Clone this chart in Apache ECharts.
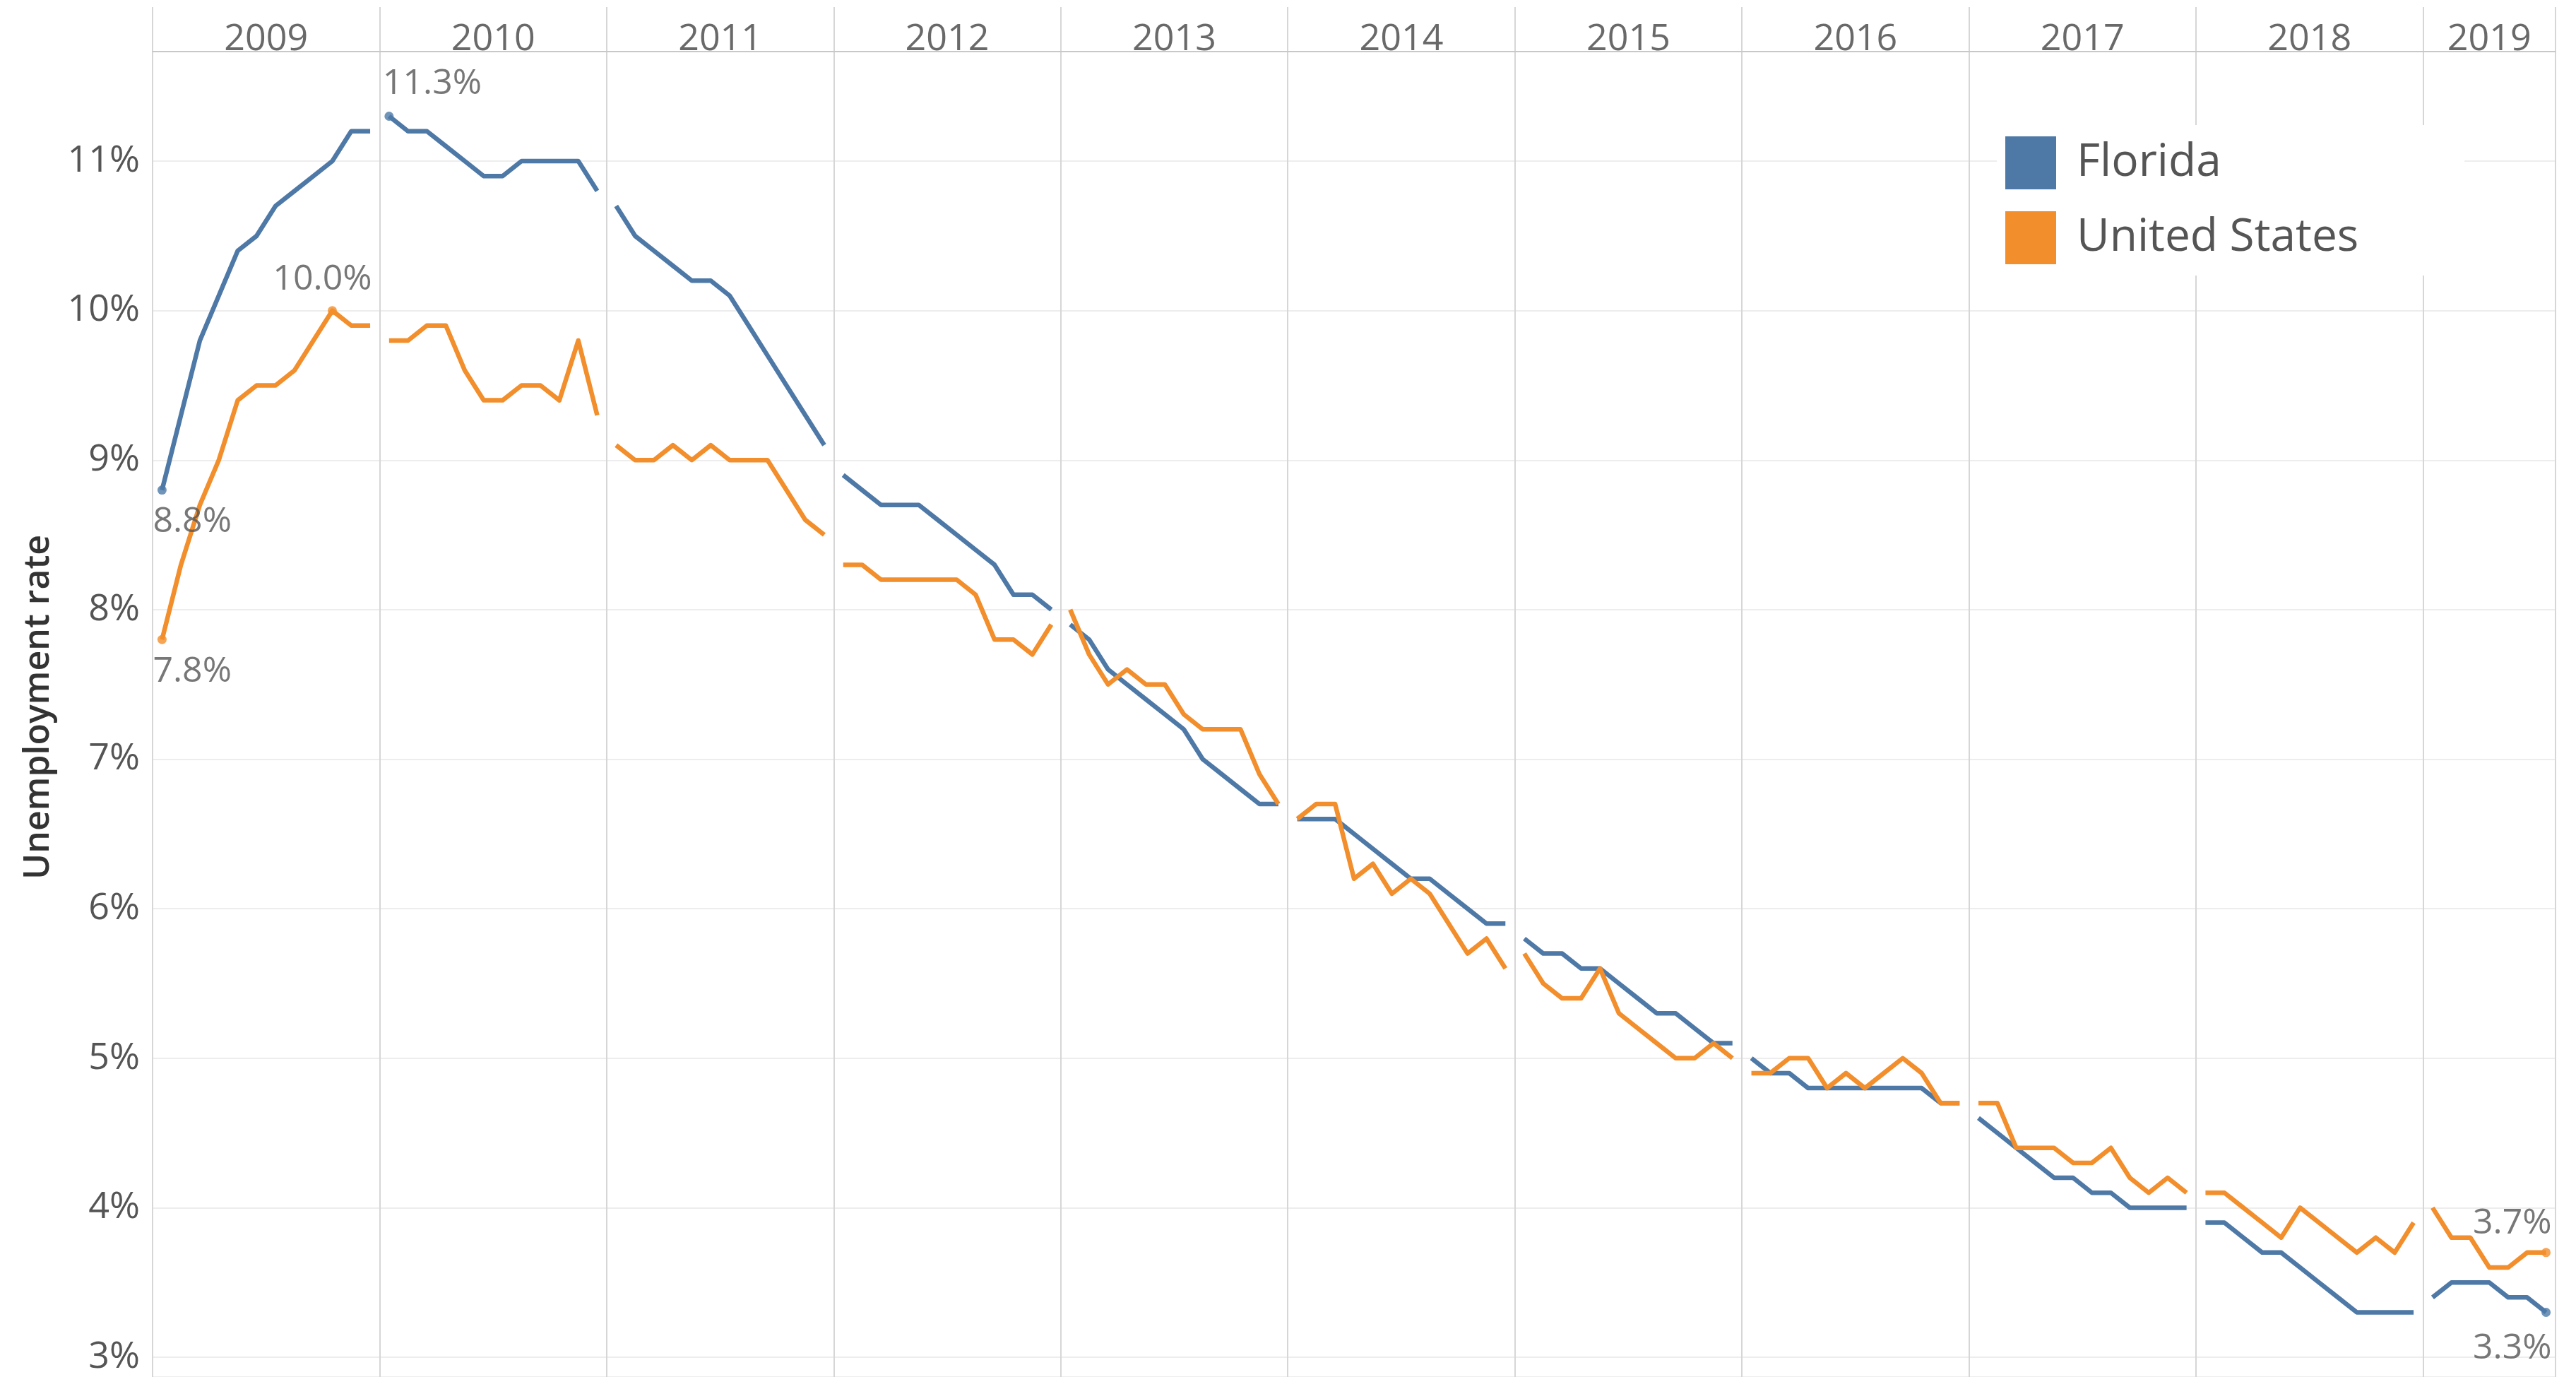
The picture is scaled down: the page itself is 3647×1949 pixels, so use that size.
<!DOCTYPE html>
<html>
<head>
<meta charset="utf-8">
<script src="https://cdn.jsdelivr.net/npm/echarts@6/dist/echarts.min.js"></script>
<style>
html,body{margin:0;padding:0;background:#fff;}
#chart{width:3647px;height:1949px;}
</style>
</head>
<body>
<div id="chart"></div>
<script>
// ---- Data (monthly unemployment rate, %) ----
const years = ['2009','2010','2011','2012','2013','2014','2015','2016','2017','2018','2019'];
const yTicks = [3,4,5,6,7,8,9,10,11];
const seriesNames = ['Florida','United States'];

const florida = [
  [8.8, 9.3, 9.8, 10.1, 10.4, 10.5, 10.7, 10.8, 10.9, 11.0, 11.2, 11.2],
  [11.3, 11.2, 11.2, 11.1, 11.0, 10.9, 10.9, 11.0, 11.0, 11.0, 11.0, 10.8],
  [10.7, 10.5, 10.4, 10.3, 10.2, 10.2, 10.1, 9.9, 9.7, 9.5, 9.3, 9.1],
  [8.9, 8.8, 8.7, 8.7, 8.7, 8.6, 8.5, 8.4, 8.3, 8.1, 8.1, 8.0],
  [7.9, 7.8, 7.6, 7.5, 7.4, 7.3, 7.2, 7.0, 6.9, 6.8, 6.7, 6.7],
  [6.6, 6.6, 6.6, 6.5, 6.4, 6.3, 6.2, 6.2, 6.1, 6.0, 5.9, 5.9],
  [5.8, 5.7, 5.7, 5.6, 5.6, 5.5, 5.4, 5.3, 5.3, 5.2, 5.1, 5.1],
  [5.0, 4.9, 4.9, 4.8, 4.8, 4.8, 4.8, 4.8, 4.8, 4.8, 4.7, 4.7],
  [4.6, 4.5, 4.4, 4.3, 4.2, 4.2, 4.1, 4.1, 4.0, 4.0, 4.0, 4.0],
  [3.9, 3.9, 3.8, 3.7, 3.7, 3.6, 3.5, 3.4, 3.3, 3.3, 3.3, 3.3],
  [3.4, 3.5, 3.5, 3.5, 3.4, 3.4, 3.3]
];

const unitedStates = [
  [7.8, 8.3, 8.7, 9.0, 9.4, 9.5, 9.5, 9.6, 9.8, 10.0, 9.9, 9.9],
  [9.8, 9.8, 9.9, 9.9, 9.6, 9.4, 9.4, 9.5, 9.5, 9.4, 9.8, 9.3],
  [9.1, 9.0, 9.0, 9.1, 9.0, 9.1, 9.0, 9.0, 9.0, 8.8, 8.6, 8.5],
  [8.3, 8.3, 8.2, 8.2, 8.2, 8.2, 8.2, 8.1, 7.8, 7.8, 7.7, 7.9],
  [8.0, 7.7, 7.5, 7.6, 7.5, 7.5, 7.3, 7.2, 7.2, 7.2, 6.9, 6.7],
  [6.6, 6.7, 6.7, 6.2, 6.3, 6.1, 6.2, 6.1, 5.9, 5.7, 5.8, 5.6],
  [5.7, 5.5, 5.4, 5.4, 5.6, 5.3, 5.2, 5.1, 5.0, 5.0, 5.1, 5.0],
  [4.9, 4.9, 5.0, 5.0, 4.8, 4.9, 4.8, 4.9, 5.0, 4.9, 4.7, 4.7],
  [4.7, 4.7, 4.4, 4.4, 4.4, 4.3, 4.3, 4.4, 4.2, 4.1, 4.2, 4.1],
  [4.1, 4.1, 4.0, 3.9, 3.8, 4.0, 3.9, 3.8, 3.7, 3.8, 3.7, 3.9],
  [4.0, 3.8, 3.8, 3.6, 3.6, 3.7, 3.7]
];

// ---- Build helpers ----
const MONTHS = 12;
const yearStart = [];
let acc = 0;
years.forEach((y, i) => { yearStart.push(acc); acc += florida[i].length === 12 ? MONTHS : florida[i].length; });
const xMax = acc; // 127

function buildLine(byYear) {
  const out = [];
  byYear.forEach((vals, yi) => {
    vals.forEach((v, m) => out.push([yearStart[yi] + m + 0.5, v]));
    if (yi < byYear.length - 1) out.push([yearStart[yi + 1], '-']);
  });
  return out;
}

function pointsOf(byYear) {
  const pts = [];
  byYear.forEach((vals, yi) => vals.forEach((v, m) => pts.push([yearStart[yi] + m + 0.5, v])));
  return pts;
}

const FONT = 'Open Sans';
const LABEL_COLOR = '#555';
const BLUE = '#4e79a7';
const ORANGE = '#f28e2b';

function markPoints(byYear, styles) {
  const pts = pointsOf(byYear);
  const first = pts[0];
  const last = pts[pts.length - 1];
  let max = pts[0];
  pts.forEach(p => { if (p[1] > max[1]) max = p; });
  return [
    { value: first, label: styles.first },
    { value: max, label: styles.max },
    { value: last, label: styles.last }
  ];
}

const baseLabel = { show: true, fontFamily: FONT, fontSize: 50, color: LABEL_COLOR,
  formatter: p => p.value[1].toFixed(1) + '%' };

const flMarks = markPoints(florida, {
  first: Object.assign({}, baseLabel, { position: 'bottom', align: 'left', distance: 14, offset: [-13, 0] }),
  max:   Object.assign({}, baseLabel, { position: 'top', align: 'left', distance: 14, offset: [-9, 0] }),
  last:  Object.assign({}, baseLabel, { position: 'bottom', align: 'right', distance: 20, offset: [8, 0] })
});
const usMarks = markPoints(unitedStates, {
  first: Object.assign({}, baseLabel, { position: 'bottom', align: 'left', distance: 14, offset: [-13, 0] }),
  max:   Object.assign({}, baseLabel, { position: 'top', distance: 12, offset: [-14, 0] }),
  last:  Object.assign({}, baseLabel, { position: 'top', align: 'right', distance: 10, offset: [8, 0] })
});

const yearLabelData = years.map((y, i) => {
  const len = florida[i].length;
  return { value: [yearStart[i] + len / 2, 0.5], name: y };
});

const chart = echarts.init(document.getElementById('chart'), null, { renderer: 'canvas' });

const option = {
  animation: false,
  backgroundColor: '#ffffff',
  grid: [
    { left: 216, right: 29, top: 73, bottom: 0, containLabel: false },
    { left: 216, right: 29, top: 10, height: 63, containLabel: false }
  ],
  xAxis: [
    {
      gridIndex: 0, type: 'value', min: 0, max: xMax, interval: 12, position: 'top',
      axisLine: { show: true, onZero: false, lineStyle: { color: '#c8c8c8', width: 2 } },
      axisTick: { show: false }, axisLabel: { show: false },
      splitLine: { show: true, showMinLine: true, showMaxLine: true, lineStyle: { color: '#d6d6d6', width: 2 } }
    },
    {
      gridIndex: 1, type: 'value', min: 0, max: xMax, interval: 12,
      axisLine: { show: false }, axisTick: { show: false }, axisLabel: { show: false },
      splitLine: { show: true, showMinLine: true, showMaxLine: true, lineStyle: { color: '#d6d6d6', width: 2 } }
    }
  ],
  yAxis: [
    {
      gridIndex: 0, type: 'value', min: 2.8677, max: 11.7325, splitNumber: 9,
      name: 'Unemployment rate', nameLocation: 'middle', nameGap: 136, nameRotate: 90,
      nameTextStyle: { fontFamily: FONT, fontSize: 50, fontWeight: 600, color: '#333', padding: [0, 0, 0, 20] },
      axisLine: { show: false }, axisTick: { show: false },
      axisLabel: {
        show: true, margin: 18, fontFamily: FONT, fontSize: 52, color: LABEL_COLOR,
        showMinLabel: false, showMaxLabel: false,
        formatter: v => { const r = Math.round(v * 1000) / 1000; return yTicks.indexOf(r) >= 0 ? r + '%' : ''; }
      },
      splitLine: { show: true, lineStyle: { color: '#ededed', width: 2 } }
    },
    {
      gridIndex: 1, type: 'value', min: 0, max: 1, show: false,
      splitLine: { show: false }
    }
  ],
  legend: {
    orient: 'vertical', left: 2827, top: 177,
    icon: 'rect', itemWidth: 72, itemHeight: 75, itemGap: 31,
    backgroundColor: '#ffffff', padding: [16, 150, 16, 12],
    textStyle: { fontFamily: FONT, fontSize: 64, color: '#555', padding: [8, 0, 0, 24] },
    data: seriesNames,
    selectedMode: false
  },
  series: [
    {
      name: seriesNames[0], type: 'line', xAxisIndex: 0, yAxisIndex: 0,
      data: buildLine(florida), connectNulls: false,
      showSymbol: false, symbol: 'none', color: BLUE,
      lineStyle: { color: BLUE, width: 6.5, join: 'round' }, itemStyle: { color: BLUE }, z: 3
    },
    {
      name: seriesNames[1], type: 'line', xAxisIndex: 0, yAxisIndex: 0,
      data: buildLine(unitedStates), connectNulls: false,
      showSymbol: false, symbol: 'none', color: ORANGE,
      lineStyle: { color: ORANGE, width: 6.5, join: 'round' }, itemStyle: { color: ORANGE }, z: 4
    },
    {
      name: 'fl-marks', type: 'scatter', xAxisIndex: 0, yAxisIndex: 0,
      data: flMarks, symbol: 'circle', symbolSize: 13,
      itemStyle: { color: BLUE }, z: 5
    },
    {
      name: 'us-marks', type: 'scatter', xAxisIndex: 0, yAxisIndex: 0,
      data: usMarks, symbol: 'circle', symbolSize: 13,
      itemStyle: { color: ORANGE }, z: 5
    },
    {
      name: 'year-headers', type: 'scatter', xAxisIndex: 1, yAxisIndex: 1,
      data: yearLabelData, symbol: 'circle', symbolSize: 1,
      itemStyle: { color: 'rgba(0,0,0,0)' },
      label: {
        show: true, position: 'inside', formatter: p => p.name,
        fontFamily: FONT, fontSize: 52, color: '#444', offset: [0, 15]
      },
      silent: true
    }
  ]
};

chart.setOption(option);
</script>
</body>
</html>
